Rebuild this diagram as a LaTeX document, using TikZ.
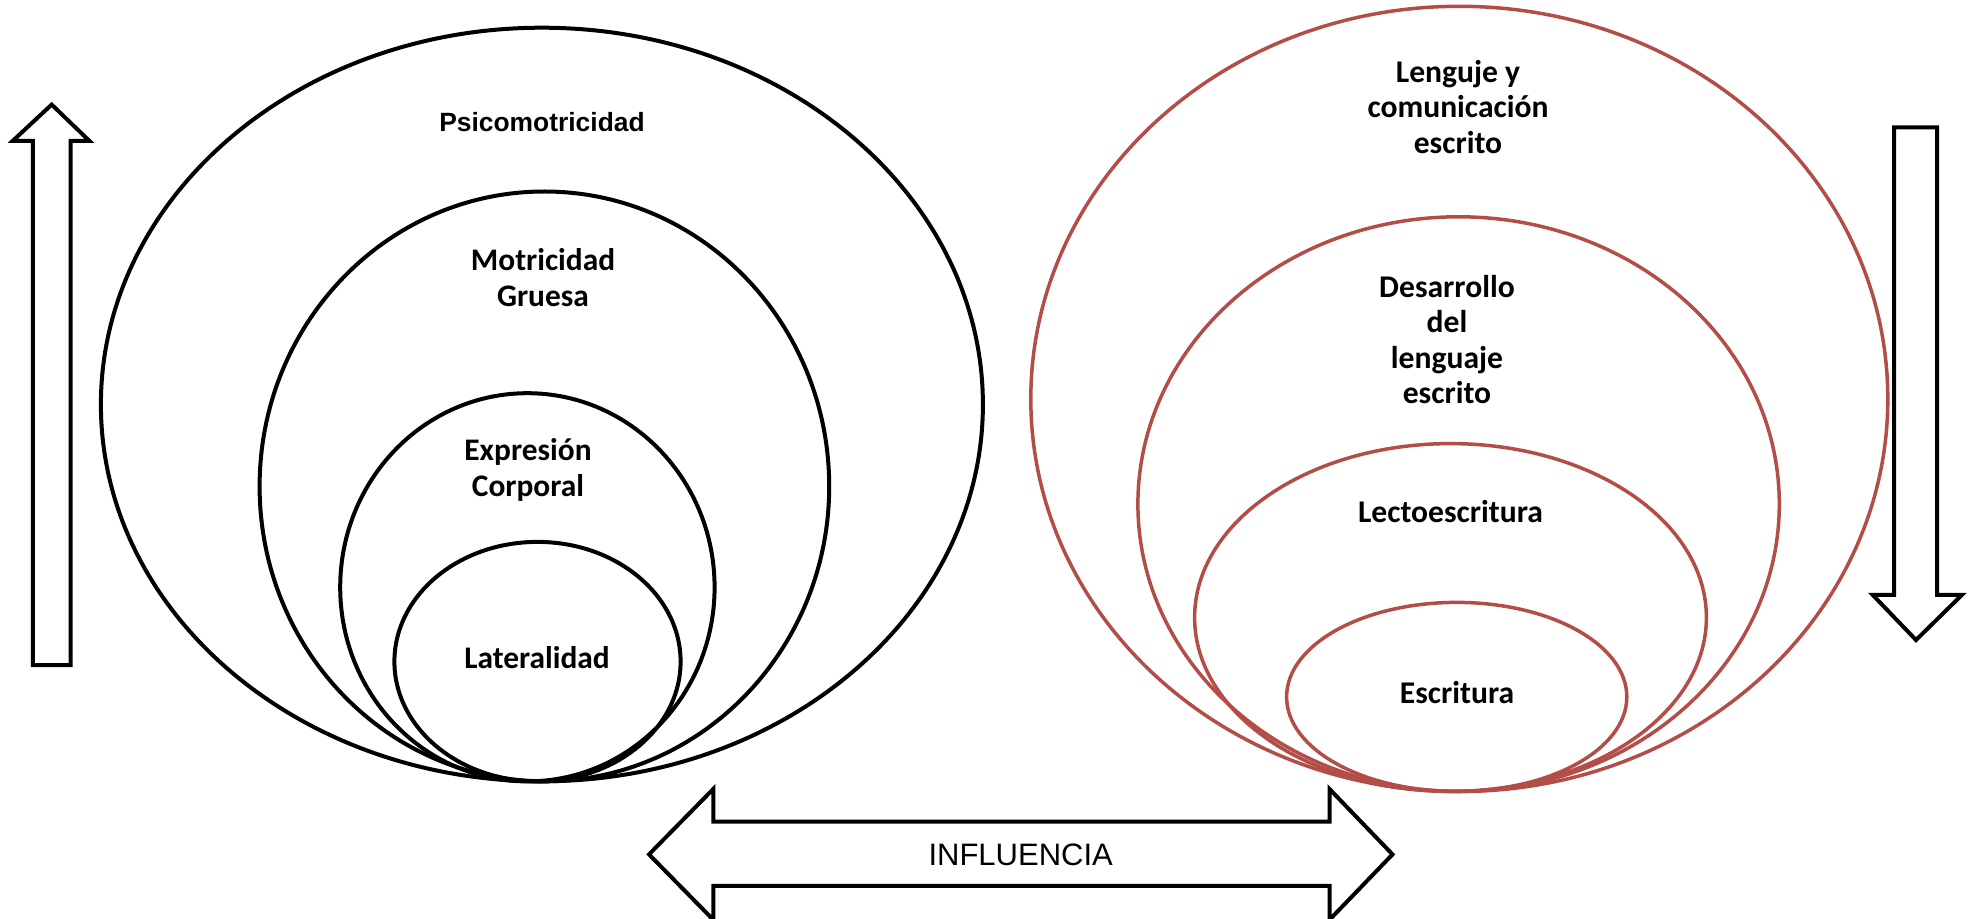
\documentclass[tikz,border=0pt]{standalone}
\usepackage{fontspec}
\setmainfont{Liberation Sans}
\newfontfamily\calib{Carlito}
\usetikzlibrary{shapes.geometric}
\definecolor{ered}{RGB}{178,77,72}
\tikzset{
  ellK/.style={ellipse, draw=black, line width=2pt, inner sep=0pt},
  ellR/.style={ellipse, draw=ered, line width=1.75pt, inner sep=0pt},
  lblA/.style={font=\bfseries\fontsize{13.2}{18.3}\selectfont, align=center, inner sep=0pt},
  lblL/.style={font=\calib\bfseries\fontsize{15.7}{18}\selectfont, align=center, inner sep=0pt},
  lblR/.style={font=\calib\bfseries\fontsize{15.8}{17.7}\selectfont, align=center, inner sep=0pt},
  bigarrow/.style={draw=black, line width=2pt, fill=white, line join=miter}
}
\begin{document}
\begin{tikzpicture}[x=0.5pt,y=-0.5pt]
\useasboundingbox (0,0) rectangle (1976,919);
\clip (0,0) rectangle (1976,919);
% left ellipses
\node[ellK, minimum width=441.0pt, minimum height=376.8pt] (psi) at (541.9,404.5) {};
\node[ellK, minimum width=284.8pt, minimum height=294.9pt] (mot) at (544.4,486.4) {};
\node[ellK, minimum width=187.2pt, minimum height=194.1pt] (exp) at (527.4,587.3) {};
\node[ellK, minimum width=143.1pt, minimum height=119.7pt] (lat) at (537.5,661.6) {};
% right ellipses
\node[ellR, minimum width=428.5pt, minimum height=392.6pt] (len) at (1459.3,398.9) {};
\node[ellR, minimum width=320.7pt, minimum height=287.3pt] (des) at (1458.6,504.1) {};
\node[ellR, minimum width=255.9pt, minimum height=173.9pt] (lec) at (1450.5,617.5) {};
\node[ellR, minimum width=170.1pt, minimum height=94.5pt] (esc) at (1456.7,696.9) {};
% left labels
\node[lblA] (tpsi) at (542,122) {Psicomotricidad};
\node[lblL] (tmot) at (543,277.5) {Motricidad\\Gruesa};
\node[lblL] (texp) at (528,469.5) {Expresión\\Corporal};
\node[lblL] (tlat) at (537,658) {Lateralidad};
% right labels
\node[lblR] (tlen) at (1458,107) {Lenguje y\\comunicación\\escrito};
\node[lblR] (tdes) at (1447,339.5) {Desarrollo\\del\\lenguaje\\escrito};
\node[lblR] (tlec) at (1450.5,511.6) {Lectoescritura};
\node[lblR] (tesc) at (1457,693) {Escritura};
% side arrows
\draw[bigarrow] (51.7,104.6) -- (89.5,141) -- (70.6,141) -- (70.6,665) -- (32.8,665) -- (32.8,141) -- (12.6,141) -- cycle;
\draw[bigarrow] (1894,127.3) -- (1937,127.3) -- (1937,594.8) -- (1962,594.8) -- (1916,640) -- (1872.6,594.8) -- (1894,594.8) -- cycle;
% influence arrow
\draw[bigarrow] (649,854.4) -- (713.3,789) -- (713.3,821.6) -- (1329.5,821.6) -- (1329.5,789) -- (1392.5,854.4) -- (1329.5,919.8) -- (1329.5,885.9) -- (713.3,885.9) -- (713.3,919.8) -- cycle;
\node[font=\fontsize{15.5}{18}\selectfont, inner sep=0pt] (infl) at (1020.7,854.4) {INFLUENCIA};
\end{tikzpicture}
\end{document}
